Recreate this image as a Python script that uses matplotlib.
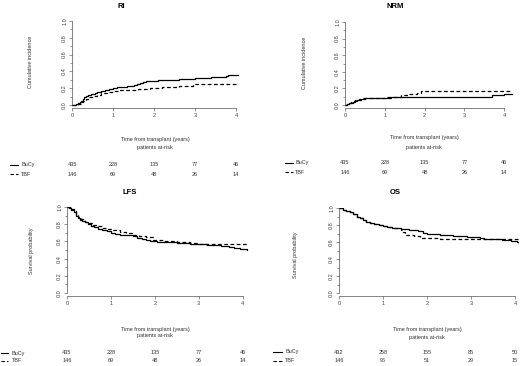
import numpy as np
import matplotlib.pyplot as plt
from matplotlib.transforms import blended_transform_factory

plt.rcParams['font.family'] = ['Liberation Sans', 'DejaVu Sans']

W, H = 520, 366

# step curves (time in years, value)
ri_bucy_t = [0, 0.1, 0.15, 0.2, 0.23, 0.26, 0.3, 0.35, 0.4, 0.47, 0.55, 0.62, 0.7, 0.8, 0.9, 1.0, 1.1, 1.2, 1.35, 1.5, 1.58, 1.65, 1.72, 1.8, 1.9, 2.1, 2.3, 2.5, 2.6, 2.8, 3.0, 3.2, 3.4, 3.6, 3.75, 3.8, 4.05]
ri_bucy_y = [0, 0.01, 0.02, 0.03, 0.05, 0.07, 0.09, 0.105, 0.12, 0.13, 0.145, 0.16, 0.17, 0.18, 0.19, 0.205, 0.215, 0.22, 0.228, 0.235, 0.245, 0.26, 0.27, 0.28, 0.29, 0.292, 0.295, 0.30, 0.305, 0.31, 0.32, 0.325, 0.33, 0.335, 0.34, 0.36, 0.36]
ri_tbf_t = [0, 0.15, 0.22, 0.28, 0.35, 0.42, 0.5, 0.6, 0.7, 0.85, 1.0, 1.15, 1.3, 1.6, 1.9, 2.2, 2.6, 2.95, 4.05]
ri_tbf_y = [0, 0.01, 0.03, 0.05, 0.07, 0.09, 0.11, 0.125, 0.14, 0.155, 0.17, 0.175, 0.18, 0.19, 0.20, 0.21, 0.23, 0.25, 0.25]

nrm_bucy_t = [0, 0.05, 0.1, 0.15, 0.2, 0.25, 0.3, 0.35, 0.4, 0.45, 0.5, 0.6, 0.7, 0.85, 1.0, 1.15, 1.3, 1.6, 2.0, 3.0, 3.7, 4.0, 4.2]
nrm_bucy_y = [0, 0.01, 0.02, 0.03, 0.04, 0.048, 0.055, 0.062, 0.07, 0.075, 0.08, 0.082, 0.085, 0.088, 0.09, 0.095, 0.10, 0.10, 0.10, 0.10, 0.12, 0.13, 0.13]
nrm_tbf_t = [0, 0.05, 0.1, 0.15, 0.2, 0.25, 0.3, 0.35, 0.4, 0.47, 0.55, 1.0, 1.2, 1.4, 1.6, 1.8, 1.92, 4.2]
nrm_tbf_y = [0, 0.01, 0.02, 0.032, 0.045, 0.055, 0.065, 0.073, 0.08, 0.085, 0.09, 0.095, 0.10, 0.12, 0.135, 0.15, 0.17, 0.17]

lfs_bucy_t = [0, 0.05, 0.1, 0.15, 0.2, 0.25, 0.3, 0.35, 0.4, 0.47, 0.55, 0.62, 0.7, 0.8, 0.9, 1.0, 1.1, 1.2, 1.35, 1.5, 1.6, 1.7, 1.8, 1.9, 2.05, 2.2, 2.5, 2.8, 3.2, 3.5, 3.7, 3.8, 3.95, 4.1]
lfs_bucy_y = [1.0, 0.99, 0.97, 0.94, 0.90, 0.87, 0.85, 0.835, 0.82, 0.80, 0.78, 0.765, 0.75, 0.735, 0.72, 0.70, 0.69, 0.68, 0.67, 0.66, 0.645, 0.63, 0.615, 0.60, 0.595, 0.59, 0.58, 0.57, 0.56, 0.55, 0.54, 0.52, 0.51, 0.50]
lfs_tbf_t = [0, 0.08, 0.15, 0.2, 0.25, 0.32, 0.4, 0.5, 0.6, 0.7, 0.8, 0.9, 1.0, 1.2, 1.35, 1.5, 1.65, 1.8, 1.95, 2.2, 2.5, 2.8, 3.0, 4.1]
lfs_tbf_y = [1.0, 0.98, 0.95, 0.91, 0.88, 0.855, 0.83, 0.81, 0.79, 0.775, 0.76, 0.745, 0.73, 0.71, 0.695, 0.68, 0.665, 0.65, 0.62, 0.61, 0.59, 0.58, 0.57, 0.57]

os_bucy_t = [0, 0.1, 0.17, 0.25, 0.32, 0.4, 0.47, 0.55, 0.62, 0.7, 0.8, 0.9, 1.0, 1.1, 1.2, 1.3, 1.4, 1.6, 1.8, 1.9, 2.0, 2.15, 2.3, 2.6, 2.9, 3.2, 3.3, 3.4, 3.7, 3.9, 4.05, 4.08]
os_bucy_y = [1.0, 0.98, 0.965, 0.95, 0.925, 0.90, 0.88, 0.86, 0.84, 0.82, 0.81, 0.80, 0.79, 0.78, 0.77, 0.76, 0.75, 0.74, 0.725, 0.71, 0.70, 0.69, 0.68, 0.67, 0.66, 0.65, 0.64, 0.63, 0.62, 0.61, 0.60, 0.58]
os_tbf_t = [0, 0.1, 0.17, 0.25, 0.32, 0.4, 0.47, 0.55, 0.62, 0.7, 0.8, 0.9, 1.0, 1.1, 1.2, 1.3, 1.4, 1.45, 1.5, 1.7, 1.85, 2.3, 2.4, 4.08]
os_tbf_y = [1.0, 0.98, 0.965, 0.95, 0.925, 0.90, 0.88, 0.86, 0.84, 0.82, 0.81, 0.80, 0.79, 0.78, 0.77, 0.76, 0.74, 0.72, 0.68, 0.67, 0.65, 0.64, 0.63, 0.62]

risk_times = [0, 1, 2, 3, 4]
risk_bucy = [435, 228, 135, 77, 46]
risk_tbf = [146, 69, 48, 26, 14]
os_risk_bucy = [432, 258, 155, 85, 50]
os_risk_tbf = [146, 96, 51, 29, 15]

panels = [
    dict(title='RI', ylabel='Cumulative incidence',
         bucy=(ri_bucy_t, ri_bucy_y), tbf=(ri_tbf_t, ri_tbf_y),
         risk=(risk_bucy, risk_tbf),
         x0=72, ppy=41, xmax=4.2, y0=105, y1=21,
         title_xy=(121, 6), ylab_xy=(31, 62), xlab_xy=(155, 140), par_y=148,
         rows=(165, 174), leg_x=(10, 18, 21)),
    dict(title='NRM', ylabel='Cumulative incidence',
         bucy=(nrm_bucy_t, nrm_bucy_y), tbf=(nrm_tbf_t, nrm_tbf_y),
         risk=(risk_bucy, risk_tbf),
         x0=345, ppy=39.8, xmax=4.25, y0=105, y1=22,
         title_xy=(395, 6), ylab_xy=(305, 63), xlab_xy=(424, 138), par_y=147,
         rows=(163, 172), leg_x=(285, 293, 295)),
    dict(title='LFS', ylabel='Survival probability',
         bucy=(lfs_bucy_t, lfs_bucy_y), tbf=(lfs_tbf_t, lfs_tbf_y),
         risk=(risk_bucy, risk_tbf),
         x0=67, ppy=43.9, xmax=4.15, y0=293, y1=207,
         title_xy=(130, 193), ylab_xy=(32, 251), xlab_xy=(155, 329), par_y=336,
         rows=(353, 361), leg_x=(1, 8, 12)),
    dict(title='OS', ylabel='Survival probability',
         bucy=(os_bucy_t, os_bucy_y), tbf=(os_tbf_t, os_tbf_y),
         risk=(os_risk_bucy, os_risk_tbf),
         x0=339, ppy=44, xmax=4.1, y0=293, y1=208,
         title_xy=(395, 192), ylab_xy=(296, 255), xlab_xy=(427, 329), par_y=337,
         rows=(352, 361), leg_x=(273, 282, 285)),
]

fig = plt.figure(figsize=(W / 100, H / 100), dpi=100)
fig.patch.set_facecolor('white')

fs = 4
txt_col = '#333333'
for p in panels:
    ypad = 0.04
    ppu = p['y0'] - p['y1']
    bottom_px = p['y0'] + ypad * ppu
    left = p['x0'] / W
    width = p['ppy'] * p['xmax'] / W
    bottom = 1 - bottom_px / H
    height = (bottom_px - p['y1']) / H
    ax = fig.add_axes([left, bottom, width, height])
    ax.set_xlim(0, p['xmax'])
    ax.set_ylim(-ypad, 1.0)
    for s in ['top', 'right']:
        ax.spines[s].set_visible(False)
    ax.spines['left'].set_bounds(0, 1)
    ax.spines['bottom'].set_bounds(0, 4)
    for s in ['left', 'bottom']:
        ax.spines[s].set_linewidth(0.5)
        ax.spines[s].set_color('#555555')
    ax.set_xticks(risk_times)
    ax.set_yticks(np.arange(0, 1.01, 0.2))
    ax.set_yticks(np.arange(0, 1.01, 0.1), minor=True)
    ax.set_yticklabels([f'{v:.1f}' for v in np.arange(0, 1.01, 0.2)], rotation=90, va='center')
    ax.tick_params(labelsize=fs, length=2, width=0.4, pad=1.5, colors='#444444')
    ax.tick_params(which='minor', length=1.2, width=0.4, colors='#444444')

    bt, by = p['bucy']
    tt, ty = p['tbf']
    ax.step(bt, by, where='post', color='black', lw=0.9)
    ax.step(tt, ty, where='post', color='black', lw=0.9, ls=(0, (3, 2)))

    fig.text(p['title_xy'][0] / W, 1 - p['title_xy'][1] / H, p['title'],
             ha='center', va='center', fontsize=5.5, fontweight='bold')
    fig.text(p['ylab_xy'][0] / W, 1 - p['ylab_xy'][1] / H, p['ylabel'],
             ha='center', va='center', rotation=90, fontsize=fs, color=txt_col)
    fig.text(p['xlab_xy'][0] / W, 1 - p['xlab_xy'][1] / H, 'Time from transplant (years)',
             ha='center', va='center', fontsize=fs, color=txt_col)
    fig.text(p['xlab_xy'][0] / W, 1 - p['par_y'] / H, 'patients at-risk',
             ha='center', va='center', fontsize=fs, color=txt_col)

    # numbers at risk under each year tick
    trans = blended_transform_factory(ax.transData, fig.transFigure)
    rb, rt = p['risk']
    for row_y, vals in zip(p['rows'], (rb, rt)):
        for t, v in zip(risk_times, vals):
            ax.text(t, 1 - row_y / H, str(v), transform=trans, ha='center',
                    va='center', fontsize=fs, color=txt_col, clip_on=False)

    lx0, lx1, tx = p['leg_x']
    for row_y, name, ls in zip(p['rows'], ('BuCy', 'TBF'), ('-', (0, (3, 2)))):
        yy = 1 - row_y / H
        fig.add_artist(plt.Line2D([lx0 / W, lx1 / W], [yy, yy], color='black',
                                  lw=0.8, ls=ls, transform=fig.transFigure))
        fig.text(tx / W, yy, name, ha='left', va='center', fontsize=fs, color=txt_col)

fig.savefig('out.png', dpi=100, facecolor='white')
